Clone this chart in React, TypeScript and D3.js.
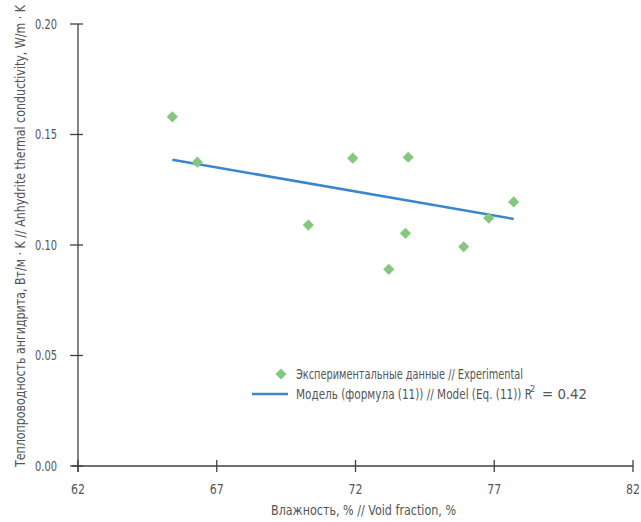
import * as d3 from "d3";
import React from "react";

const width = 641;
const height = 522;
const margin = { top: 24, right: 8, bottom: 56, left: 78 };

// experimental points: void fraction (%), conductivity (W/m·K)
const voidFraction = [65.4, 66.3, 70.3, 71.9, 73.2, 73.8, 73.9, 75.9, 76.8, 77.7];
const conductivity = [0.158, 0.1375, 0.109, 0.1393, 0.089, 0.1053, 0.1397, 0.0992, 0.1122, 0.1195];

// model line end points
const modelX = [65.4, 77.7];
const modelY = [0.1386, 0.1118];

const xTicks = [62, 67, 72, 77, 82];
const yTicks = [0, 0.05, 0.1, 0.15, 0.2];

const font = "'DejaVu Sans Condensed', 'Liberation Sans Narrow', sans-serif";
const textColor = "#555";
const axisColor = "#404040";
const green = "#85c780";
const blue = "#3b86cc";

const App = () => {
  const xScale = d3.scaleLinear().domain([62, 82]).range([margin.left, width - margin.right]);
  const yScale = d3.scaleLinear().domain([0, 0.2]).range([height - margin.bottom, margin.top]);

  const line = d3
    .line<number>()
    .x((d) => xScale(d))
    .y((d, i) => yScale(modelY[i]));

  const diamond = d3.symbol().type(d3.symbolDiamond2).size(80)();

  const x0 = xScale(62);
  const y0 = yScale(0);

  const txt = { fontFamily: font, fontSize: 14, fill: textColor, lengthAdjust: "spacingAndGlyphs" as const };

  return (
    <svg width={width} height={height} style={{ position: "absolute", left: 0, top: 0 }}>
      {/* y axis */}
      <line x1={x0} x2={x0} y1={yScale(0.2)} y2={y0 + 6} stroke={axisColor} strokeWidth={1.3} />
      {yTicks.map((t) => (
        <g key={t}>
          <line x1={x0 - 8} x2={x0 + 5} y1={yScale(t)} y2={yScale(t)} stroke={axisColor} strokeWidth={1.3} />
          <text x={x0 - 21} y={yScale(t)} dy="0.35em" textAnchor="end" textLength={22} {...txt}>
            {d3.format(".2f")(t)}
          </text>
        </g>
      ))}
      {/* x axis */}
      <line x1={x0 - 6} x2={xScale(82)} y1={y0} y2={y0} stroke={axisColor} strokeWidth={1.3} />
      {xTicks.map((t) => (
        <g key={t}>
          <line x1={xScale(t)} x2={xScale(t)} y1={y0 - 6} y2={y0 + 6} stroke={axisColor} strokeWidth={1.3} />
          <text x={xScale(t)} y={y0 + 28} textAnchor="middle" textLength={14} {...txt}>
            {t}
          </text>
        </g>
      ))}
      <text x={271} y={y0 + 49} textLength={185} {...txt}>
        Влажность, % // Void fraction, %
      </text>
      <text transform={`translate(25, 467) rotate(-90)`} textLength={462} {...txt}>
        Теплопроводность ангидрита, Вт/м · K // Anhydrite thermal conductivity, W/m · K
      </text>

      {/* model */}
      <path d={line(modelX) ?? ""} fill="none" stroke={blue} strokeWidth={2.5} />

      {/* points */}
      {voidFraction.map((v, i) => (
        <path key={i} d={diamond ?? ""} transform={`translate(${xScale(v)}, ${yScale(conductivity[i])})`} fill={green} />
      ))}

      {/* legend */}
      <path d={diamond ?? ""} transform="translate(281, 374)" fill={green} />
      <text x={296} y={374} dy="0.35em" textLength={227} {...txt}>
        Экспериментальные данные // Experimental
      </text>
      <line x1={252} x2={288} y1={394} y2={394} stroke={blue} strokeWidth={2.5} />
      <text x={296} y={394} dy="0.35em" textLength={236} {...txt}>
        Модель (формула (11)) // Model (Eq. (11)) R
      </text>
      <text x={530} y={389} dy="0.35em" fontFamily={font} fontSize={9} fill={textColor}>
        2
      </text>
      <text x={542} y={394} dy="0.35em" textLength={45} {...txt}>
        = 0.42
      </text>
    </svg>
  );
};

export default App;
